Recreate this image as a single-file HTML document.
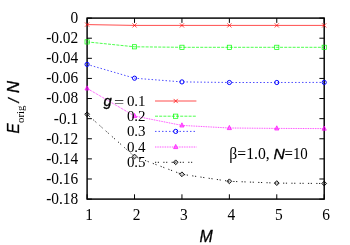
<!DOCTYPE html><html><head><meta charset="utf-8"><style>html,body{margin:0;padding:0;background:#fff;overflow:hidden;}svg{display:block;will-change:transform;}text{font-family:"Liberation Serif",serif;fill:#000;}.s{font-family:"Liberation Sans",sans-serif;font-style:italic;stroke:#000;stroke-width:0.3px;}</style></head><body>
<svg width="350" height="245" viewBox="0 0 350 245">
<rect width="350" height="245" fill="#fff"/>
<rect x="87.1" y="18.1" width="237.10" height="181.00" fill="none" stroke="#000" stroke-width="1.45"/>
<line x1="87.1" y1="18.10" x2="91.89999999999999" y2="18.10" stroke="#000" stroke-width="1.0"/>
<line x1="324.2" y1="18.10" x2="319.4" y2="18.10" stroke="#000" stroke-width="1.0"/>
<text transform="translate(78.20,23.00) scale(0.98,1)" font-size="15.7" text-anchor="end">0</text>
<line x1="87.1" y1="38.21" x2="91.89999999999999" y2="38.21" stroke="#000" stroke-width="1.0"/>
<line x1="324.2" y1="38.21" x2="319.4" y2="38.21" stroke="#000" stroke-width="1.0"/>
<text transform="translate(78.20,43.11) scale(0.98,1)" font-size="15.7" text-anchor="end">-0.02</text>
<line x1="87.1" y1="58.32" x2="91.89999999999999" y2="58.32" stroke="#000" stroke-width="1.0"/>
<line x1="324.2" y1="58.32" x2="319.4" y2="58.32" stroke="#000" stroke-width="1.0"/>
<text transform="translate(78.20,63.22) scale(0.98,1)" font-size="15.7" text-anchor="end">-0.04</text>
<line x1="87.1" y1="78.43" x2="91.89999999999999" y2="78.43" stroke="#000" stroke-width="1.0"/>
<line x1="324.2" y1="78.43" x2="319.4" y2="78.43" stroke="#000" stroke-width="1.0"/>
<text transform="translate(78.20,83.33) scale(0.98,1)" font-size="15.7" text-anchor="end">-0.06</text>
<line x1="87.1" y1="98.54" x2="91.89999999999999" y2="98.54" stroke="#000" stroke-width="1.0"/>
<line x1="324.2" y1="98.54" x2="319.4" y2="98.54" stroke="#000" stroke-width="1.0"/>
<text transform="translate(78.20,103.44) scale(0.98,1)" font-size="15.7" text-anchor="end">-0.08</text>
<line x1="87.1" y1="118.66" x2="91.89999999999999" y2="118.66" stroke="#000" stroke-width="1.0"/>
<line x1="324.2" y1="118.66" x2="319.4" y2="118.66" stroke="#000" stroke-width="1.0"/>
<text transform="translate(78.20,123.56) scale(0.98,1)" font-size="15.7" text-anchor="end">-0.1</text>
<line x1="87.1" y1="138.77" x2="91.89999999999999" y2="138.77" stroke="#000" stroke-width="1.0"/>
<line x1="324.2" y1="138.77" x2="319.4" y2="138.77" stroke="#000" stroke-width="1.0"/>
<text transform="translate(78.20,143.67) scale(0.98,1)" font-size="15.7" text-anchor="end">-0.12</text>
<line x1="87.1" y1="158.88" x2="91.89999999999999" y2="158.88" stroke="#000" stroke-width="1.0"/>
<line x1="324.2" y1="158.88" x2="319.4" y2="158.88" stroke="#000" stroke-width="1.0"/>
<text transform="translate(78.20,163.78) scale(0.98,1)" font-size="15.7" text-anchor="end">-0.14</text>
<line x1="87.1" y1="178.99" x2="91.89999999999999" y2="178.99" stroke="#000" stroke-width="1.0"/>
<line x1="324.2" y1="178.99" x2="319.4" y2="178.99" stroke="#000" stroke-width="1.0"/>
<text transform="translate(78.20,183.89) scale(0.98,1)" font-size="15.7" text-anchor="end">-0.16</text>
<line x1="87.1" y1="199.10" x2="91.89999999999999" y2="199.10" stroke="#000" stroke-width="1.0"/>
<line x1="324.2" y1="199.10" x2="319.4" y2="199.10" stroke="#000" stroke-width="1.0"/>
<text transform="translate(78.20,204.00) scale(0.98,1)" font-size="15.7" text-anchor="end">-0.18</text>
<line x1="87.10" y1="199.1" x2="87.10" y2="194.29999999999998" stroke="#000" stroke-width="1.0"/>
<line x1="87.10" y1="18.1" x2="87.10" y2="22.900000000000002" stroke="#000" stroke-width="1.0"/>
<text transform="translate(89.10,220.00) scale(0.98,1)" font-size="15.7" text-anchor="middle">1</text>
<line x1="134.52" y1="199.1" x2="134.52" y2="194.29999999999998" stroke="#000" stroke-width="1.0"/>
<line x1="134.52" y1="18.1" x2="134.52" y2="22.900000000000002" stroke="#000" stroke-width="1.0"/>
<text transform="translate(136.52,220.00) scale(0.98,1)" font-size="15.7" text-anchor="middle">2</text>
<line x1="181.94" y1="199.1" x2="181.94" y2="194.29999999999998" stroke="#000" stroke-width="1.0"/>
<line x1="181.94" y1="18.1" x2="181.94" y2="22.900000000000002" stroke="#000" stroke-width="1.0"/>
<text transform="translate(183.94,220.00) scale(0.98,1)" font-size="15.7" text-anchor="middle">3</text>
<line x1="229.36" y1="199.1" x2="229.36" y2="194.29999999999998" stroke="#000" stroke-width="1.0"/>
<line x1="229.36" y1="18.1" x2="229.36" y2="22.900000000000002" stroke="#000" stroke-width="1.0"/>
<text transform="translate(231.36,220.00) scale(0.98,1)" font-size="15.7" text-anchor="middle">4</text>
<line x1="276.78" y1="199.1" x2="276.78" y2="194.29999999999998" stroke="#000" stroke-width="1.0"/>
<line x1="276.78" y1="18.1" x2="276.78" y2="22.900000000000002" stroke="#000" stroke-width="1.0"/>
<text transform="translate(278.78,220.00) scale(0.98,1)" font-size="15.7" text-anchor="middle">5</text>
<line x1="324.20" y1="199.1" x2="324.20" y2="194.29999999999998" stroke="#000" stroke-width="1.0"/>
<line x1="324.20" y1="18.1" x2="324.20" y2="22.900000000000002" stroke="#000" stroke-width="1.0"/>
<text transform="translate(326.20,220.00) scale(0.98,1)" font-size="15.7" text-anchor="middle">6</text>
<polyline points="87.10,24.60 134.52,25.40 181.94,25.40 229.36,25.40 276.78,25.40 324.20,25.40" fill="none" stroke="#ff0000" stroke-width="0.7"/>
<path d="M85.00,22.50L89.20,26.70M85.00,26.70L89.20,22.50" stroke="#ff0000" stroke-width="0.7" fill="none"/>
<path d="M132.42,23.30L136.62,27.50M132.42,27.50L136.62,23.30" stroke="#ff0000" stroke-width="0.7" fill="none"/>
<path d="M179.84,23.30L184.04,27.50M179.84,27.50L184.04,23.30" stroke="#ff0000" stroke-width="0.7" fill="none"/>
<path d="M227.26,23.30L231.46,27.50M227.26,27.50L231.46,23.30" stroke="#ff0000" stroke-width="0.7" fill="none"/>
<path d="M274.68,23.30L278.88,27.50M274.68,27.50L278.88,23.30" stroke="#ff0000" stroke-width="0.7" fill="none"/>
<path d="M322.10,23.30L326.30,27.50M322.10,27.50L326.30,23.30" stroke="#ff0000" stroke-width="0.7" fill="none"/>
<polyline points="87.10,41.90 134.52,46.80 181.94,47.30 229.36,47.30 276.78,47.30 324.20,47.30" fill="none" stroke="#00ff00" stroke-width="0.7" stroke-dasharray="3 1.2"/>
<rect x="85.00" y="39.80" width="4.2" height="4.2" stroke="#00ff00" stroke-width="0.7" fill="none"/>
<rect x="132.42" y="44.70" width="4.2" height="4.2" stroke="#00ff00" stroke-width="0.7" fill="none"/>
<rect x="179.84" y="45.20" width="4.2" height="4.2" stroke="#00ff00" stroke-width="0.7" fill="none"/>
<rect x="227.26" y="45.20" width="4.2" height="4.2" stroke="#00ff00" stroke-width="0.7" fill="none"/>
<rect x="274.68" y="45.20" width="4.2" height="4.2" stroke="#00ff00" stroke-width="0.7" fill="none"/>
<rect x="322.10" y="45.20" width="4.2" height="4.2" stroke="#00ff00" stroke-width="0.7" fill="none"/>
<polyline points="87.10,64.40 134.52,78.20 181.94,81.90 229.36,82.50 276.78,82.50 324.20,82.40" fill="none" stroke="#0000ff" stroke-width="0.7" stroke-dasharray="1.5 2"/>
<circle cx="87.10" cy="64.40" r="2.1" stroke="#0000ff" stroke-width="1.0" fill="none"/>
<circle cx="134.52" cy="78.20" r="2.1" stroke="#0000ff" stroke-width="1.0" fill="none"/>
<circle cx="181.94" cy="81.90" r="2.1" stroke="#0000ff" stroke-width="1.0" fill="none"/>
<circle cx="229.36" cy="82.50" r="2.1" stroke="#0000ff" stroke-width="1.0" fill="none"/>
<circle cx="276.78" cy="82.50" r="2.1" stroke="#0000ff" stroke-width="1.0" fill="none"/>
<circle cx="324.20" cy="82.40" r="2.1" stroke="#0000ff" stroke-width="1.0" fill="none"/>
<polyline points="87.10,88.40 134.52,116.00 181.94,125.40 229.36,128.00 276.78,128.40 324.20,128.60" fill="none" stroke="#ff00ff" stroke-width="0.8" stroke-dasharray="0.85 0.85"/>
<path d="M87.10,85.80L89.20,90.00L85.00,90.00Z" stroke="#ff00ff" stroke-width="0.7" fill="#ff00ff" fill-opacity="0.45"/>
<path d="M134.52,113.40L136.62,117.60L132.42,117.60Z" stroke="#ff00ff" stroke-width="0.7" fill="#ff00ff" fill-opacity="0.45"/>
<path d="M181.94,122.80L184.04,127.00L179.84,127.00Z" stroke="#ff00ff" stroke-width="0.7" fill="#ff00ff" fill-opacity="0.45"/>
<path d="M229.36,125.40L231.46,129.60L227.26,129.60Z" stroke="#ff00ff" stroke-width="0.7" fill="#ff00ff" fill-opacity="0.45"/>
<path d="M276.78,125.80L278.88,130.00L274.68,130.00Z" stroke="#ff00ff" stroke-width="0.7" fill="#ff00ff" fill-opacity="0.45"/>
<path d="M324.20,126.00L326.30,130.20L322.10,130.20Z" stroke="#ff00ff" stroke-width="0.7" fill="#ff00ff" fill-opacity="0.45"/>
<polyline points="87.10,114.30 134.52,156.50 181.94,174.30 229.36,181.30 276.78,183.10 324.20,183.50" fill="none" stroke="#000000" stroke-width="0.9" stroke-dasharray="1.2 1.6 1.2 4.3"/>
<path d="M87.10,111.90L89.50,114.30L87.10,116.70L84.70,114.30Z" stroke="#000000" stroke-width="0.9" fill="#000000" fill-opacity="0.2"/>
<path d="M134.52,154.10L136.92,156.50L134.52,158.90L132.12,156.50Z" stroke="#000000" stroke-width="0.9" fill="#000000" fill-opacity="0.2"/>
<path d="M181.94,171.90L184.34,174.30L181.94,176.70L179.54,174.30Z" stroke="#000000" stroke-width="0.9" fill="#000000" fill-opacity="0.2"/>
<path d="M229.36,178.90L231.76,181.30L229.36,183.70L226.96,181.30Z" stroke="#000000" stroke-width="0.9" fill="#000000" fill-opacity="0.2"/>
<path d="M276.78,180.70L279.18,183.10L276.78,185.50L274.38,183.10Z" stroke="#000000" stroke-width="0.9" fill="#000000" fill-opacity="0.2"/>
<path d="M324.20,181.10L326.60,183.50L324.20,185.90L321.80,183.50Z" stroke="#000000" stroke-width="0.9" fill="#000000" fill-opacity="0.2"/>
<line x1="155.0" y1="101.0" x2="196.4" y2="101.0" stroke="#ff0000" stroke-width="0.7"/>
<path d="M173.60,98.90L177.80,103.10M173.60,103.10L177.80,98.90" stroke="#ff0000" stroke-width="0.7" fill="none"/>
<line x1="155.0" y1="116.2" x2="196.4" y2="116.2" stroke="#00ff00" stroke-width="0.7" stroke-dasharray="3 1.2"/>
<rect x="173.60" y="114.10" width="4.2" height="4.2" stroke="#00ff00" stroke-width="0.7" fill="none"/>
<line x1="155.0" y1="131.4" x2="196.4" y2="131.4" stroke="#0000ff" stroke-width="0.7" stroke-dasharray="1.5 2"/>
<circle cx="175.70" cy="131.40" r="2.1" stroke="#0000ff" stroke-width="1.0" fill="none"/>
<line x1="155.0" y1="147.0" x2="196.4" y2="147.0" stroke="#ff00ff" stroke-width="0.8" stroke-dasharray="0.85 0.85"/>
<path d="M175.70,144.40L177.80,148.60L173.60,148.60Z" stroke="#ff00ff" stroke-width="0.7" fill="#ff00ff" fill-opacity="0.45"/>
<line x1="155.0" y1="162.3" x2="196.4" y2="162.3" stroke="#000000" stroke-width="0.9" stroke-dasharray="1.2 1.6 1.2 4.3"/>
<path d="M175.70,159.90L178.10,162.30L175.70,164.70L173.30,162.30Z" stroke="#000000" stroke-width="0.9" fill="#000000" fill-opacity="0.2"/>
<text transform="translate(199.60,242.30) scale(0.925,1)" font-size="17.2" text-anchor="start" class="s">M</text>
<text transform="translate(19.10,133.60) rotate(-90) scale(0.98,1)" font-size="15.6" text-anchor="start" class="s">E</text>
<text transform="translate(24.00,123.00) rotate(-90) scale(0.98,1)" font-size="11.1" text-anchor="start">orig</text>
<text transform="translate(18.80,102.60) rotate(-90) scale(1.05,1)" font-size="14.5" text-anchor="start" class="s">/</text>
<text transform="translate(19.10,93.00) rotate(-90) scale(1.02,1)" font-size="16.3" text-anchor="start" class="s">N</text>
<text transform="translate(229.30,158.90) scale(1.0,1)" font-size="15.7" text-anchor="start">β=1.0,</text>
<text transform="translate(273.50,158.90) scale(1.02,1)" font-size="15.4" text-anchor="start" class="s">N</text>
<text transform="translate(284.50,158.90) scale(0.95,1)" font-size="15.7" text-anchor="start">=10</text>
<text transform="translate(103.40,105.70) scale(1.07,1)" font-size="13.8" text-anchor="start" class="s">g</text>
<text transform="translate(114.00,107.20) scale(1.18,1)" font-size="15.3" text-anchor="start">=</text>
<text transform="translate(145.60,105.70) scale(0.98,1)" font-size="15.3" text-anchor="end">0.1</text>
<text transform="translate(145.60,121.20) scale(0.98,1)" font-size="15.3" text-anchor="end">0.2</text>
<text transform="translate(145.60,136.40) scale(0.98,1)" font-size="15.3" text-anchor="end">0.3</text>
<text transform="translate(145.60,152.00) scale(0.98,1)" font-size="15.3" text-anchor="end">0.4</text>
<text transform="translate(145.60,167.30) scale(0.98,1)" font-size="15.3" text-anchor="end">0.5</text>
</svg></body></html>
